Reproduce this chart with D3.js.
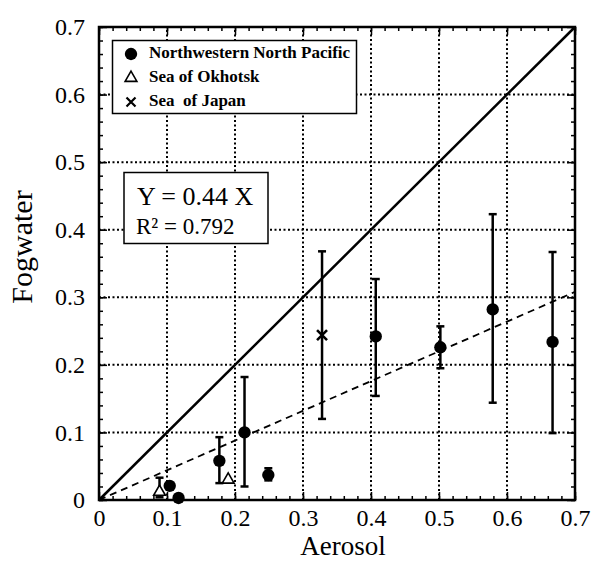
<!DOCTYPE html>
<html>
<head>
<meta charset="utf-8">
<script src="https://cdn.jsdelivr.net/npm/d3@7/dist/d3.min.js"></script>
<style>
  body { margin: 0; background: #fff; }
  text { font-family: "Liberation Serif", "DejaVu Serif", serif; fill: #000; }
</style>
</head>
<body>
<div id="chart"></div>
<script>
      var w = 591;
      var h = 565;

      // tick values
      var majorTicks = [0, 0.1, 0.2, 0.3, 0.4, 0.5, 0.6, 0.7];
      var gridTicks = [0.1, 0.2, 0.3, 0.4, 0.5, 0.6];
      var minorTicks = d3.range(0, 0.7001, 0.02);

      // Northwestern North Pacific (filled circles)
      var nwX  = [0.104, 0.117, 0.177, 0.214, 0.249, 0.407, 0.502, 0.579, 0.667];
      var nwY  = [0.021, 0.003, 0.058, 0.100, 0.037, 0.242, 0.226, 0.282, 0.234];
      var nwLo = [null,  null,  0.025, 0.020, 0.029, 0.154, 0.195, 0.144, 0.099];
      var nwHi = [null,  null,  0.093, 0.182, 0.047, 0.327, 0.257, 0.423, 0.367];

      // Sea of Okhotsk (open triangles)
      var okX  = [0.089, 0.190];
      var okY  = [0.012, 0.030];
      var okLo = [0.004, null];
      var okHi = [0.033, null];

      // Sea of Japan (cross)
      var jpX  = [0.328];
      var jpY  = [0.244];
      var jpLo = [0.120];
      var jpHi = [0.368];

      var slope = 0.44;

      var xScale = d3.scaleLinear().domain([0, 0.7]).range([99, 575]);
      var yScale = d3.scaleLinear().domain([0, 0.7]).range([500, 27]);

      var svg = d3.select("#chart")
            .append("svg")
            .attr("width", w)
            .attr("height", h);

      //Grid
      svg.selectAll("line.gx")
         .data(gridTicks)
         .enter()
         .append("line")
         .attr("x1", function(d) { return xScale(d); })
         .attr("x2", function(d) { return xScale(d); })
         .attr("y1", yScale(0))
         .attr("y2", yScale(0.7))
         .attr("stroke", "#000")
         .attr("stroke-width", 2)
         .attr("stroke-dasharray", "2,2.5");

      svg.selectAll("line.gy")
         .data(gridTicks)
         .enter()
         .append("line")
         .attr("x1", xScale(0))
         .attr("x2", xScale(0.7))
         .attr("y1", function(d) { return yScale(d); })
         .attr("y2", function(d) { return yScale(d); })
         .attr("stroke", "#000")
         .attr("stroke-width", 2)
         .attr("stroke-dasharray", "2,2.5");

      //Legend box
      var legend = svg.append("g");
      legend.append("rect")
         .attr("x", 112.5).attr("y", 40.5)
         .attr("width", 244).attr("height", 73)
         .attr("fill", "#fff").attr("stroke", "#000").attr("stroke-width", 1.5);

      //Equation box
      svg.append("rect")
         .attr("x", 124).attr("y", 172.5)
         .attr("width", 144).attr("height", 71)
         .attr("fill", "#fff").attr("stroke", "#000").attr("stroke-width", 1.5);
      svg.append("text")
         .attr("x", 137).attr("y", 205)
         .style("font-size", "26px")
         .text("Y = 0.44 X");
      svg.append("text")
         .attr("x", 136).attr("y", 234)
         .style("font-size", "23px")
         .text("R² = 0.792");

      //Lines
      var line = d3.line()
         .x(function(d) { return xScale(d[0]); })
         .y(function(d) { return yScale(d[1]); });

      svg.append("path")
         .attr("d", line([[0, 0], [0.7, 0.7]]))
         .attr("fill", "none").attr("stroke", "#000").attr("stroke-width", 2.5);

      svg.append("path")
         .attr("d", line([[0, 0], [0.7, slope * 0.7]]))
         .attr("fill", "none").attr("stroke", "#000").attr("stroke-width", 1.8)
         .attr("stroke-dasharray", "7,5");

      //Error bars
      function errorBars(xs, lo, hi) {
        var rows = xs.map(function(d, i) { return [d, lo[i], hi[i]]; })
                     .filter(function(d) { return d[1] !== null; });
        var g = svg.append("g").attr("stroke", "#000").attr("stroke-width", 2.5);
        rows.forEach(function(d) {
          var cx = xScale(d[0]);
          g.append("line").attr("x1", cx).attr("x2", cx)
            .attr("y1", yScale(d[1])).attr("y2", yScale(d[2]));
          g.append("line").attr("x1", cx - 4).attr("x2", cx + 4)
            .attr("y1", yScale(d[1])).attr("y2", yScale(d[1]));
          g.append("line").attr("x1", cx - 4).attr("x2", cx + 4)
            .attr("y1", yScale(d[2])).attr("y2", yScale(d[2]));
        });
      }
      errorBars(nwX, nwLo, nwHi);
      errorBars(okX, okLo, okHi);
      errorBars(jpX, jpLo, jpHi);

      //Markers
      var circleSym = d3.symbol().type(d3.symbolCircle).size(120);
      var triSym = d3.symbol().type(d3.symbolTriangle).size(60);
      var crossPath = "M-5,-5L5,5M-5,5L5,-5";

      svg.selectAll("path.nw")
         .data(nwX)
         .enter()
         .append("path")
         .attr("d", circleSym)
         .attr("transform", function(d, i) {
            return "translate(" + xScale(d) + "," + yScale(nwY[i]) + ")";
         })
         .attr("fill", "#000");

      svg.selectAll("path.ok")
         .data(okX)
         .enter()
         .append("path")
         .attr("d", triSym)
         .attr("transform", function(d, i) {
            return "translate(" + xScale(d) + "," + yScale(okY[i]) + ")";
         })
         .attr("fill", "#fff").attr("stroke", "#000").attr("stroke-width", 1.6);

      svg.selectAll("path.jp")
         .data(jpX)
         .enter()
         .append("path")
         .attr("d", crossPath)
         .attr("transform", function(d, i) {
            return "translate(" + xScale(d) + "," + yScale(jpY[i]) + ")";
         })
         .attr("fill", "none").attr("stroke", "#000").attr("stroke-width", 2.6);

      //Legend entries
      var legendNames = ["Northwestern North Pacific", "Sea of Okhotsk", "Sea  of Japan"];
      legendNames.forEach(function(name, i) {
        var yy = 52 + i * 24;
        var p = legend.append("path")
           .attr("transform", "translate(131," + (yy + 2) + ")");
        if (i === 0) p.attr("d", circleSym).attr("fill", "#000");
        else if (i === 1) p.attr("d", triSym).attr("fill", "#fff").attr("stroke", "#000").attr("stroke-width", 1.6);
        else p.attr("d", "M-4.5,-4.5L4.5,4.5M-4.5,4.5L4.5,-4.5").attr("fill", "none")
              .attr("stroke", "#000").attr("stroke-width", 2.2);
        legend.append("text")
           .attr("x", 149).attr("y", yy + 6)
           .style("font-size", "17px")
           .style("font-weight", "bold")
           .style("white-space", "pre")
           .attr("xml:space", "preserve")
           .text(name);
      });

      //Axes (ticks inside the frame)
      function styleAxis(g) {
        g.select(".domain").remove();
        g.selectAll(".tick line").attr("stroke", "#000").attr("stroke-width", 1.5);
        g.selectAll("text").style("font-family", "Liberation Serif").style("font-size", "24px");
      }
      var fmt = function(d) { return d === 0 ? "0" : d3.format(".1f")(d); };

      svg.append("g").attr("transform", "translate(0," + yScale(0) + ")")
         .call(d3.axisBottom(xScale).tickValues(minorTicks).tickSize(-4).tickFormat(""))
         .call(styleAxis);
      svg.append("g").attr("transform", "translate(0," + yScale(0) + ")")
         .call(d3.axisBottom(xScale).tickValues(majorTicks).tickSize(-8).tickPadding(9).tickFormat(fmt))
         .call(styleAxis);
      svg.append("g").attr("transform", "translate(0," + yScale(0.7) + ")")
         .call(d3.axisTop(xScale).tickValues(minorTicks).tickSize(-4).tickFormat(""))
         .call(styleAxis);
      svg.append("g").attr("transform", "translate(0," + yScale(0.7) + ")")
         .call(d3.axisTop(xScale).tickValues(majorTicks).tickSize(-8).tickFormat(""))
         .call(styleAxis);

      svg.append("g").attr("transform", "translate(" + xScale(0) + ",0)")
         .call(d3.axisLeft(yScale).tickValues(minorTicks).tickSize(-4).tickFormat(""))
         .call(styleAxis);
      svg.append("g").attr("transform", "translate(" + xScale(0) + ",0)")
         .call(d3.axisLeft(yScale).tickValues(majorTicks).tickSize(-8).tickPadding(14).tickFormat(fmt))
         .call(styleAxis);
      svg.append("g").attr("transform", "translate(" + xScale(0.7) + ",0)")
         .call(d3.axisRight(yScale).tickValues(minorTicks).tickSize(-4).tickFormat(""))
         .call(styleAxis);
      svg.append("g").attr("transform", "translate(" + xScale(0.7) + ",0)")
         .call(d3.axisRight(yScale).tickValues(majorTicks).tickSize(-8).tickFormat(""))
         .call(styleAxis);

      //Frame
      svg.append("rect")
         .attr("x", xScale(0)).attr("y", yScale(0.7))
         .attr("width", xScale(0.7) - xScale(0))
         .attr("height", yScale(0) - yScale(0.7))
         .attr("fill", "none").attr("stroke", "#000").attr("stroke-width", 2.5);

      //Axis titles
      svg.append("text")
         .attr("x", 343).attr("y", 555)
         .attr("text-anchor", "middle")
         .style("font-size", "27px")
         .text("Aerosol");

      svg.append("text")
         .attr("transform", "translate(32,247) rotate(-90)")
         .attr("text-anchor", "middle")
         .style("font-size", "30px")
         .text("Fogwater");
</script>
</body>
</html>
